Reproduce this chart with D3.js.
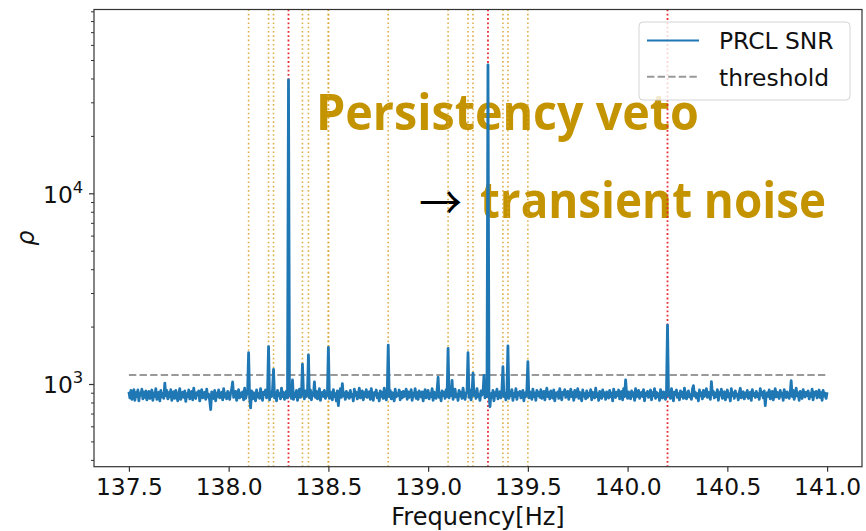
<!DOCTYPE html>
<html><head><meta charset="utf-8">
<script src="https://cdn.jsdelivr.net/npm/d3@7"></script>
<style>body{margin:0;background:#fff}</style>
</head><body><svg id="c" width="866" height="531"></svg>
<script>
// ---------- data ----------
const freqStart = 137.5;
const freqStep = 0.005;
// PRCL SNR baseline (one value per 0.005 Hz, 137.500 .. 141.000)
const noise = [
 910,845,925,830,890,935,820,900,860,930,815,895,875,940,835,905,850,920,825,885,
 915,840,870,930,820,895,860,945,830,880,905,815,925,855,890,840,1010,870,925,835,
 900,855,935,820,880,910,840,925,865,815,895,945,830,875,905,850,920,810,890,860,
 930,835,885,915,825,950,860,840,900,875,920,815,890,935,845,870,905,830,940,855,
 885,820,735,910,870,840,925,815,895,860,930,845,880,905,825,945,855,890,835,915,
 870,830,900,940,1025,850,885,915,820,875,935,845,895,860,910,825,950,840,880,905,
 880,850,750,920,835,900,870,815,930,855,890,840,945,865,820,905,880,930,845,895,
 880,825,910,860,935,880,845,900,815,925,870,890,835,950,860,905,830,885,920,845,
 880,870,915,840,1050,830,895,860,925,820,885,940,850,875,880,905,835,920,860,890,
 880,845,930,825,900,870,1025,850,915,835,890,945,820,880,905,860,925,840,895,870,
 880,840,910,875,825,935,860,890,815,920,770,885,945,850,1005,865,900,830,915,855,
 895,840,925,860,880,815,940,870,905,835,890,950,845,875,920,825,900,860,935,850,
 885,910,830,945,865,820,900,875,930,845,890,815,920,860,905,840,950,870,825,895,
 880,860,925,835,900,880,815,940,855,890,870,930,825,905,845,915,860,885,940,830,
 910,850,875,935,820,895,865,945,840,900,830,920,880,855,910,815,890,935,845,870,
 925,835,890,860,945,820,905,875,840,930,1085,850,895,815,920,870,905,840,935,860,
 880,845,915,870,1045,830,900,940,855,885,820,925,865,905,840,950,875,830,895,915,
 880,850,930,825,895,880,870,910,840,945,860,885,820,920,875,900,1110,845,935,860,
 880,905,760,890,850,925,815,900,870,940,835,885,910,845,930,880,860,895,825,915,
 880,840,905,870,935,820,890,860,945,830,900,875,915,845,880,925,815,895,860,930,
 880,845,910,875,830,940,860,895,820,925,870,905,850,935,840,890,915,825,880,950,
 860,900,835,920,875,845,930,815,895,865,910,840,945,870,825,905,880,935,850,890,
 915,830,875,940,860,900,820,925,855,885,945,840,905,870,815,930,865,890,835,920,
 850,895,870,935,825,905,880,845,950,860,890,820,915,875,840,930,865,900,830,910,
 870,845,925,860,895,815,940,880,850,905,870,930,835,890,915,825,945,860,1050,885,
 840,910,875,835,920,865,900,820,945,855,890,925,840,880,905,860,935,815,895,870,
 915,850,885,930,825,900,870,945,840,905,860,890,820,935,875,845,910,880,830,925,
 880,865,900,840,945,870,815,905,880,930,850,890,825,920,860,905,840,950,875,835,
 895,920,855,880,830,940,980,865,905,845,890,815,930,870,900,835,925,860,885,945,
 850,905,870,830,1030,880,915,845,895,860,935,820,900,875,940,840,885,910,825,870,
 930,855,890,815,945,870,900,840,920,865,885,825,905,950,845,880,910,835,895,860,
 925,840,880,905,820,935,870,895,850,915,860,890,830,945,875,905,845,920,770,880,
 900,860,930,835,890,915,825,880,945,855,905,870,840,925,865,895,820,935,880,850,
 910,875,840,895,1040,860,925,830,885,950,865,900,820,915,870,840,935,880,855,905,
 870,920,835,890,860,940,825,905,875,915,845,885,930,850,900,820,925,865,895,840,
 905
];
const spikeFreqs  = [138.1, 138.2, 138.225, 138.3, 138.37, 138.4, 138.5, 138.8, 139.1, 139.2, 139.225, 139.3, 139.375, 139.4, 139.5, 140.2];
const spikeValues = [1459, 1570, 1194, 39300, 1270, 1420, 1557, 1600, 1538, 1459, 1140, 47100, 1232, 1585, 1310, 2037];
const thresholdValue = 1115;
const orangeVetoFreqs = [138.1, 138.2, 138.225, 138.37, 138.4, 138.5, 138.5, 138.8, 139.1, 139.2, 139.225, 139.375, 139.4, 139.5];
const redVetoFreqs = [138.3, 139.3, 140.2];
const xTickValues = [137.5, 138.0, 138.5, 139.0, 139.5, 140.0, 140.5, 141.0];
const yMajorTicks = [1000, 10000];
const yMinorTicks = [400,500,600,700,800,900,2000,3000,4000,5000,6000,7000,8000,9000,20000,30000,40000,50000,60000,70000,80000,90000];
const legendLabels = ["PRCL SNR", "threshold"];
const xLabel = "Frequency[Hz]";
const yLabel = "ρ";
const noteLine1 = "Persistency veto";
const noteArrow = "→";
const noteLine2 = "transient noise";

// ---------- build series ----------
const pts = noise.map((v, i) => ({ f: +(freqStart + i * freqStep).toFixed(3), v }))
  .filter(p => !spikeFreqs.some(s => Math.abs(s - p.f) < 0.0005));
spikeFreqs.forEach((f, i) => pts.push({ f, v: spikeValues[i] }));
pts.sort((a, b) => a.f - b.f);
const fMin = d3.min(pts, d => d.f), fMax = d3.max(pts, d => d.f);

// ---------- layout ----------
const svg = d3.select("#c");
const L = 94, R = 862, T = 9.5, B = 466.7;
const x = d3.scaleLinear().domain([137.325, 141.175]).range([L, R]);
const y = d3.scaleLog().domain([368.4, 92000]).range([B, T]);
const axisColor = "#333";
const FONT = "'DejaVu Sans', sans-serif";
const CJK = "'Noto Sans CJK JP', 'Noto Sans', sans-serif";
const NOTEFONT = "'Open Sans', 'Noto Sans', sans-serif";

// annotation text (under data)
function note(txt, px, py, len, size, family, weight, color, sy) {
  svg.append("g").attr("transform", `translate(${px},${py}) scale(1,${sy})`)
    .append("text").attr("x", 0).attr("y", 0)
    .attr("font-family", family).attr("font-weight", weight)
    .attr("font-size", size).attr("fill", color)
    .attr("textLength", len).attr("lengthAdjust", "spacingAndGlyphs").text(txt);
}
note(noteLine1, 316, 130, 383, 45, NOTEFONT, 700, "#c49300", 1.12);
note(noteLine2, 480, 218, 346, 45, NOTEFONT, 700, "#c49300", 1.12);
note(noteArrow, 419, 219, 43, 46, CJK, 400, "#000", 1);

// veto lines
const vg = svg.append("g");
vg.selectAll("line.o").data(orangeVetoFreqs).join("line").attr("class", "o")
  .attr("x1", d => x(d)).attr("x2", d => x(d)).attr("y1", T).attr("y2", B)
  .attr("stroke", "#d9a22a").attr("stroke-opacity", 0.85).attr("stroke-width", 1.6)
  .attr("stroke-dasharray", "1.6,2.7");
vg.selectAll("line.r").data(redVetoFreqs).join("line").attr("class", "r")
  .attr("x1", d => x(d)).attr("x2", d => x(d)).attr("y1", T).attr("y2", B)
  .attr("stroke", "#e8202a").attr("stroke-opacity", 0.95).attr("stroke-width", 1.8)
  .attr("stroke-dasharray", "1.8,2.5");

// threshold
svg.append("line").attr("x1", x(fMin)).attr("x2", x(fMax))
  .attr("y1", y(thresholdValue)).attr("y2", y(thresholdValue))
  .attr("stroke", "#999").attr("stroke-width", 2).attr("stroke-dasharray", "7.4,3.2");

// data line
svg.append("path").datum(pts)
  .attr("d", d3.line().x(d => x(d.f)).y(d => y(d.v)))
  .attr("fill", "none").attr("stroke", "#1f77b4").attr("stroke-width", 2.8)
  .attr("stroke-linejoin", "round");

// frame
svg.append("rect").attr("x", L).attr("y", T).attr("width", R - L).attr("height", B - T)
  .attr("fill", "none").attr("stroke", axisColor).attr("stroke-width", 1.2);

// x axis
const gx = svg.append("g").attr("transform", `translate(0,${B})`)
  .call(d3.axisBottom(x).tickValues(xTickValues).tickFormat(d3.format(".1f")).tickSize(5).tickPadding(7));
gx.select(".domain").remove();
gx.selectAll(".tick line").attr("stroke", axisColor).attr("stroke-width", 1.2);
gx.selectAll(".tick text").attr("font-family", FONT).attr("font-size", 23.4).attr("fill", "#111");

// y axis
const gy = svg.append("g").attr("transform", `translate(${L},0)`)
  .call(d3.axisLeft(y).tickValues(yMajorTicks).tickFormat("").tickSize(5));
gy.select(".domain").remove();
gy.selectAll(".tick line").attr("stroke", axisColor).attr("stroke-width", 1.2);
const gym = svg.append("g").attr("transform", `translate(${L},0)`)
  .call(d3.axisLeft(y).tickValues(yMinorTicks).tickFormat("").tickSize(3));
gym.select(".domain").remove();
gym.selectAll(".tick line").attr("stroke", axisColor).attr("stroke-width", 1);

yMajorTicks.forEach(v => {
  const t = svg.append("text").attr("x", 43).attr("y", y(v) + 9.5)
    .attr("font-family", FONT).attr("font-size", 23.4).attr("fill", "#111");
  t.append("tspan").text("10");
  t.append("tspan").attr("font-size", 16.4).attr("dy", -10).text(String(Math.round(Math.log10(v))));
});

// axis labels
svg.append("text").attr("x", (L + R) / 2).attr("y", 525).attr("text-anchor", "middle")
  .attr("font-family", FONT).attr("font-size", 24).attr("fill", "#111").text(xLabel);
svg.append("text").attr("transform", `translate(34,${(T + B) / 2}) rotate(-90)`)
  .attr("text-anchor", "middle").attr("font-family", FONT).attr("font-style", "italic")
  .attr("font-size", 24).attr("fill", "#111").text(yLabel);

// legend
const lg = svg.append("g");
lg.append("rect").attr("x", 639).attr("y", 22).attr("width", 211).attr("height", 78).attr("rx", 4)
  .attr("fill", "#fff").attr("fill-opacity", 0.8).attr("stroke", "#d4d4d4").attr("stroke-width", 1);
lg.append("line").attr("x1", 647).attr("x2", 699).attr("y1", 40.5).attr("y2", 40.5)
  .attr("stroke", "#1f77b4").attr("stroke-width", 2);
lg.append("line").attr("x1", 647).attr("x2", 699).attr("y1", 76.7).attr("y2", 76.7)
  .attr("stroke", "#999").attr("stroke-width", 2).attr("stroke-dasharray", "7.4,3.2");
lg.selectAll("text").data(legendLabels).join("text")
  .attr("x", 719).attr("y", (d, i) => 49 + i * 36.5)
  .attr("font-family", FONT).attr("font-size", 23.4).attr("fill", "#111").text(d => d);
</script></body></html>
